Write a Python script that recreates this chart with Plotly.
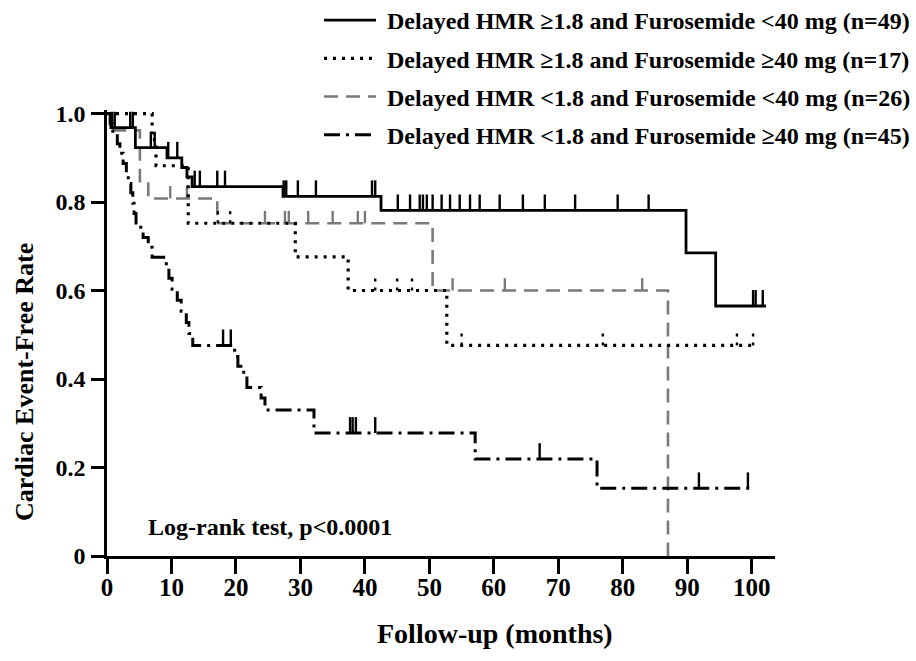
import plotly.graph_objects as go

# ---------------- data (months, cardiac event-free rate) ----------------
names = [
    "Delayed HMR ≥1.8 and Furosemide &lt;40 mg (n=49)",
    "Delayed HMR ≥1.8 and Furosemide ≥40 mg (n=17)",
    "Delayed HMR &lt;1.8 and Furosemide &lt;40 mg (n=26)",
    "Delayed HMR &lt;1.8 and Furosemide ≥40 mg (n=45)",
]

# group 1: HMR >=1.8, Furosemide <40 mg
g1_times = [0.6, 4.4, 9.3, 11.6, 12.4, 13.2, 27.3, 42.5, 89.8, 94.4]
g1_surv = [0.968, 0.923, 0.900, 0.878, 0.857, 0.835, 0.813, 0.781, 0.685, 0.565]
g1_end = 102.2
g1_censor = [0.8, 1.2, 3.6, 4.0, 6.8, 7.4, 9.5, 10.9, 13.6, 14.4, 17.1, 18.3,
             27.4, 27.8, 29.6, 32.4, 41.1, 41.6, 45.1, 47.0, 48.5, 49.0, 49.6,
             50.5, 51.9, 53.2, 54.7, 56.3, 57.8, 60.9, 64.5, 67.9, 72.6, 79.2,
             84.0, 100.2, 100.6, 101.7]

# group 2: HMR >=1.8, Furosemide >=40 mg
g2_times = [7.0, 7.6, 12.6, 29.2, 37.4, 52.7]
g2_surv = [0.941, 0.882, 0.752, 0.676, 0.600, 0.476]
g2_end = 100.2
g2_censor = [17.2, 19.1, 41.6, 45.0, 47.3, 55.0, 76.9, 97.7, 100.2]

# group 3: HMR <1.8, Furosemide <40 mg
g3_times = [0.5, 5.1, 6.4, 17.1, 50.5, 87.0]
g3_surv = [0.962, 0.847, 0.808, 0.752, 0.600, 0.0]
g3_end = 87.0
g3_censor = [9.8, 12.4, 24.5, 27.6, 28.2, 31.2, 35.0, 38.9, 40.0, 53.6, 61.7, 83.0]

# group 4: HMR <1.8, Furosemide >=40 mg
g4_times = [0.5, 0.9, 1.6, 2.0, 2.5, 3.0, 3.3, 3.7, 4.0, 4.2, 4.5, 5.6, 6.4,
            7.0, 9.2, 9.6, 10.1, 10.9, 11.5, 12.3, 12.7, 13.3, 19.8, 20.3,
            21.2, 21.7, 23.9, 24.5, 32.1, 57.1, 76.0]
g4_surv = [0.977, 0.955, 0.932, 0.910, 0.887, 0.865, 0.842, 0.821, 0.797,
           0.774, 0.743, 0.720, 0.698, 0.675, 0.652, 0.628, 0.603, 0.578,
           0.553, 0.528, 0.503, 0.476, 0.451, 0.429, 0.406, 0.381, 0.357,
           0.330, 0.278, 0.219, 0.153]
g4_end = 99.7
g4_censor = [18.0, 19.2, 37.7, 38.1, 38.6, 41.6, 67.1, 91.8, 99.4]

x_ticks = [0, 10, 20, 30, 40, 50, 60, 70, 80, 90, 100]
y_ticks = [0, 0.2, 0.4, 0.6, 0.8, 1.0]
y_ticktext = ["0", "0.2", "0.4", "0.6", "0.8", "1.0"]

# ---------------- helpers ----------------
def step_xy(times, surv, end):
    xs = [0] + list(times) + [end]
    ys = [1.0] + list(surv) + [surv[-1]]
    return xs, ys


def level_at(times, surv, t):
    lvl = 1.0
    for ti, si in zip(times, surv):
        if ti <= t:
            lvl = si
    return lvl


def censor_xy(times, surv, cens, h):
    xs, ys = [], []
    for c in cens:
        v = level_at(times, surv, c)
        xs += [c, c, None]
        ys += [v, v + h, None]
    return xs, ys


FONT = "Liberation Serif"
groups = [
    (g3_times, g3_surv, g3_end, g3_censor, "#7a7a7a", "14px,8px", 2.6, "solid", 0.028, 3, names[2]),
    (g2_times, g2_surv, g2_end, g2_censor, "black", "3px,6px", 3.2, "3px,6px", 0.036, 2, names[1]),
    (g4_times, g4_surv, g4_end, g4_censor, "black", "16px,6px,3px,6px", 3.0, "solid", 0.036, 4, names[3]),
    (g1_times, g1_surv, g1_end, g1_censor, "black", "solid", 2.8, "solid", 0.036, 1, names[0]),
]

fig = go.Figure()
for times, surv, end, cens, color, dash, width, tdash, th, rank, name in groups:
    xs, ys = step_xy(times, surv, end)
    fig.add_trace(go.Scatter(
        x=xs, y=ys, mode="lines", name="\u00a0" + name, legendrank=rank,
        line=dict(color=color, dash=dash, width=width, shape="hv"),
        legendgroup=name,
    ))
    cx, cy = censor_xy(times, surv, cens, th)
    fig.add_trace(go.Scatter(
        x=cx, y=cy, mode="lines", showlegend=False, legendgroup=name,
        line=dict(color=color, dash=tdash, width=2.4),
        hoverinfo="skip",
    ))

# ---------------- layout ----------------
W, H = 916, 661
L, R, T, B = 107, 141, 110, 105
PW, PH = W - L - R, H - T - B


def px_x(px):
    return (px - L) / PW


def px_y(py):
    return (H - B - py) / PH


fig.update_layout(
    width=W, height=H,
    margin=dict(l=L, r=R, t=T, b=B, autoexpand=False),
    paper_bgcolor="white", plot_bgcolor="white",
    font=dict(family=FONT, size=24, color="black", weight="bold"),
    showlegend=True,
    legend=dict(
        x=px_x(916), xanchor="right", y=px_y(-2), yanchor="top",
        bgcolor="rgba(0,0,0,0)", font=dict(size=24, family=FONT, weight="bold"),
        itemwidth=52, tracegroupgap=4,
    ),
    xaxis=dict(
        range=[0, 103.6], tickvals=x_ticks, showgrid=False, zeroline=False,
        showline=True, linecolor="black", linewidth=2.5,
        ticks="outside", ticklen=15, tickwidth=2.5, tickcolor="black",
        ticklabelstandoff=-8,
        tickfont=dict(size=25, family=FONT, weight="bold"),
    ),
    yaxis=dict(
        range=[0, 1.008], tickvals=y_ticks, ticktext=y_ticktext,
        showgrid=False, zeroline=False,
        showline=True, linecolor="black", linewidth=2.5,
        ticks="outside", ticklen=13, tickwidth=2.5, tickcolor="black",
        ticklabelstandoff=1,
        tickfont=dict(size=24, family=FONT, weight="bold"),
    ),
    annotations=[
        dict(text="Log-rank test, p&lt;0.0001", xref="paper", yref="paper",
             x=px_x(146), y=px_y(527), xanchor="left", yanchor="middle",
             showarrow=False, font=dict(size=24, family=FONT, weight="bold")),
        dict(text="Cardiac Event-Free Rate", xref="paper", yref="paper",
             x=px_x(24), y=px_y(382), xanchor="center", yanchor="middle",
             textangle=-90, showarrow=False,
             font=dict(size=26, family=FONT, weight="bold")),
        dict(text="Follow-up (months)", xref="paper", yref="paper",
             x=px_x(495), y=px_y(633), xanchor="center", yanchor="middle",
             showarrow=False, font=dict(size=28, family=FONT, weight="bold")),
    ],
)

fig.write_html("out.html", config={"displayModeBar": False},
               post_script="document.body.style.margin='0';")
